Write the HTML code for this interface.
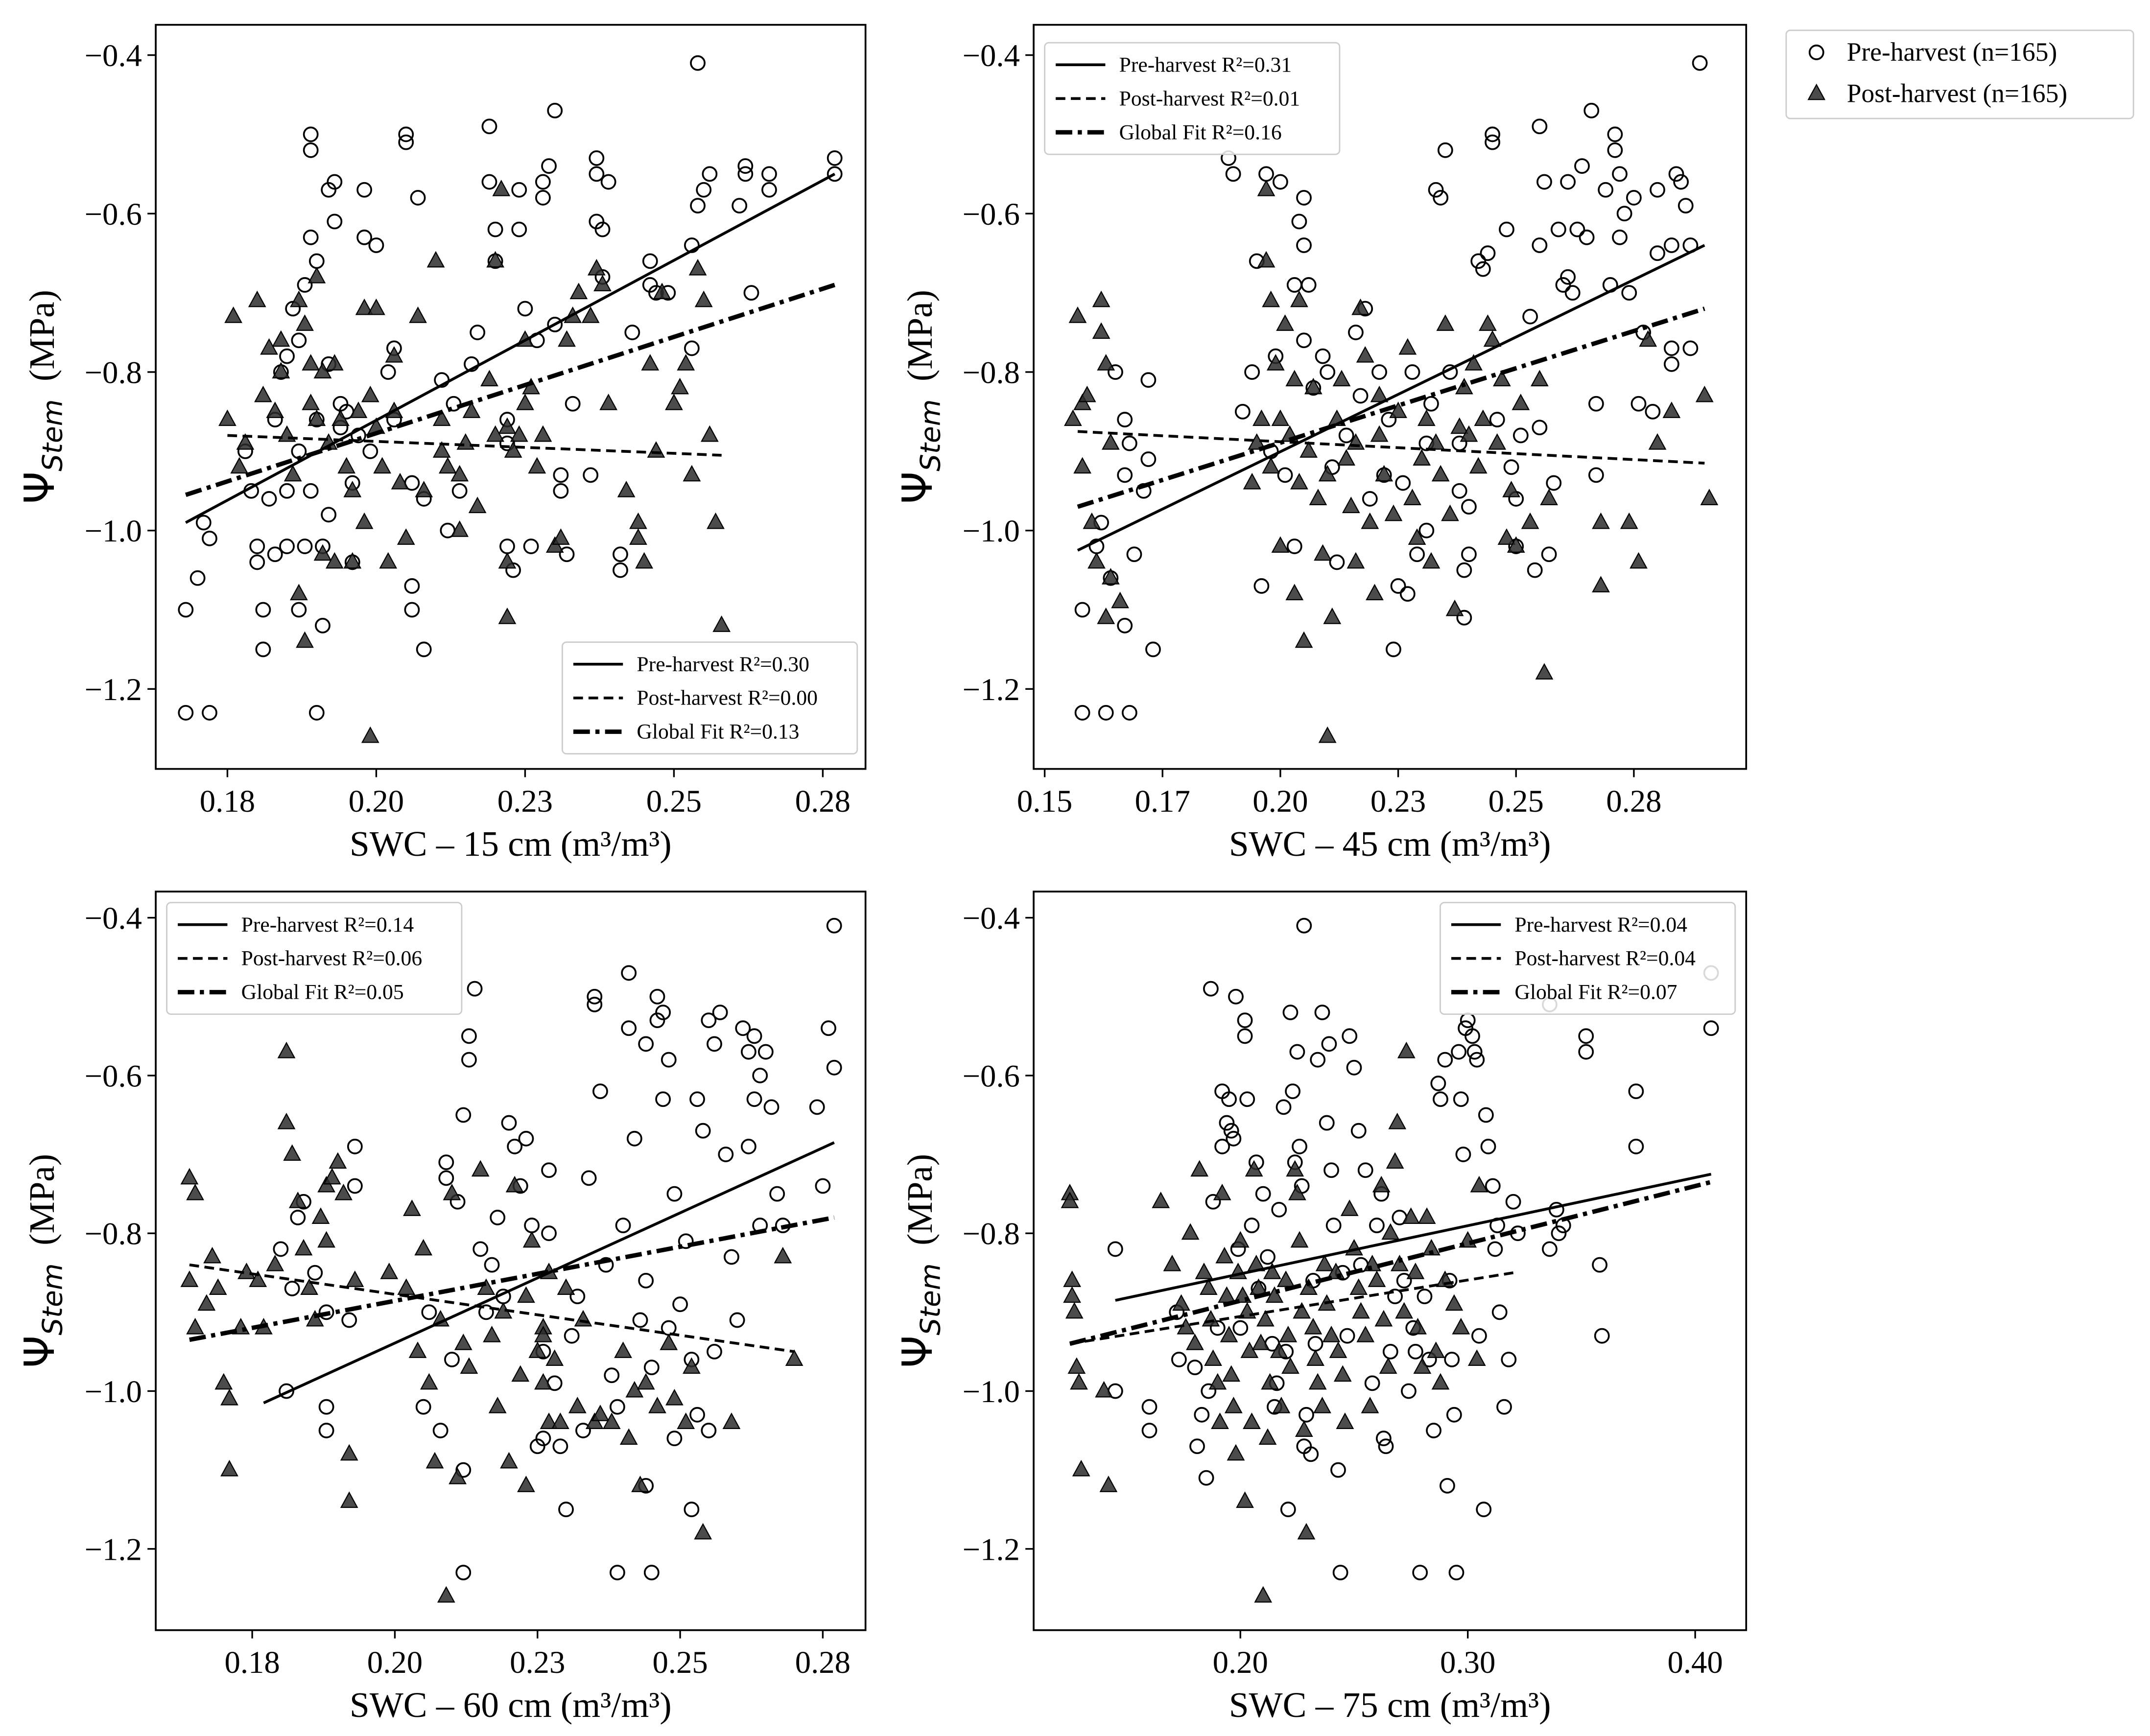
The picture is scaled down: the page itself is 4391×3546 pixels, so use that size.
<!DOCTYPE html>
<html><head><meta charset="utf-8"><style>
html,body{margin:0;padding:0;background:#fff;}
svg{display:block;font-family:"Liberation Serif","DejaVu Serif",serif;}
</style></head><body>
<svg id="chart" width="4391" height="3546" viewBox="0 0 1560 1259.8" xmlns="http://www.w3.org/2000/svg"></svg>
<script>
// ---------- DATA ----------
const p1Pre=[[0.168,-1.10],[0.168,-1.23],[0.172,-1.23],[0.171,-0.99],[0.170,-1.06],[0.172,-1.01],[0.178,-0.90],[0.179,-0.95],[0.180,-1.02],[0.180,-1.04],[0.181,-1.15],[0.182,-0.96],[0.183,-0.86],[0.184,-0.80],[0.185,-0.78],[0.186,-0.72],[0.187,-0.76],[0.188,-0.69],[0.189,-0.63],[0.189,-0.50],[0.189,-0.52],[0.190,-0.66],[0.192,-0.57],[0.190,-1.23],[0.191,-1.12],[0.192,-0.98],[0.193,-0.61],[0.193,-0.56],[0.192,-0.79],[0.194,-0.84],[0.196,-1.04],[0.197,-0.88],[0.198,-0.57],[0.198,-0.63],[0.200,-0.64],[0.199,-0.90],[0.202,-0.80],[0.203,-0.77],[0.203,-0.86],[0.205,-0.50],[0.205,-0.51],[0.206,-0.94],[0.206,-1.07],[0.206,-1.10],[0.207,-0.58],[0.208,-1.15],[0.208,-0.96],[0.211,-0.81],[0.212,-1.00],[0.213,-0.84],[0.214,-0.95],[0.216,-0.79],[0.217,-0.75],[0.219,-0.49],[0.219,-0.56],[0.220,-0.62],[0.220,-0.66],[0.222,-0.86],[0.222,-0.89],[0.222,-1.02],[0.223,-1.05],[0.224,-0.57],[0.224,-0.62],[0.225,-0.72],[0.226,-1.02],[0.227,-0.76],[0.228,-0.56],[0.228,-0.58],[0.229,-0.54],[0.230,-0.47],[0.230,-0.74],[0.231,-0.93],[0.231,-0.95],[0.232,-1.03],[0.233,-0.84],[0.236,-0.93],[0.237,-0.53],[0.237,-0.55],[0.237,-0.61],[0.238,-0.62],[0.238,-0.68],[0.239,-0.56],[0.241,-1.03],[0.241,-1.05],[0.243,-0.75],[0.246,-0.66],[0.246,-0.69],[0.247,-0.70],[0.249,-0.70],[0.253,-0.64],[0.253,-0.77],[0.254,-0.59],[0.254,-0.41],[0.255,-0.57],[0.256,-0.55],[0.261,-0.59],[0.262,-0.54],[0.262,-0.55],[0.263,-0.70],[0.266,-0.55],[0.266,-0.57],[0.277,-0.53],[0.277,-0.55],[0.185,-1.02],[0.187,-1.10],[0.188,-1.02],[0.189,-0.95],[0.187,-0.90],[0.183,-1.03],[0.185,-0.95],[0.191,-1.02],[0.194,-0.87],[0.195,-0.85],[0.190,-0.86],[0.196,-0.94],[0.181,-1.10]];
const p1Post=[[0.175,-0.86],[0.176,-0.73],[0.177,-0.92],[0.178,-0.89],[0.180,-0.71],[0.181,-0.83],[0.182,-0.77],[0.183,-0.85],[0.184,-0.80],[0.184,-0.76],[0.185,-0.88],[0.186,-0.93],[0.187,-0.71],[0.187,-1.08],[0.188,-0.74],[0.188,-1.14],[0.189,-0.79],[0.189,-0.84],[0.190,-0.68],[0.190,-0.86],[0.191,-0.80],[0.191,-1.03],[0.192,-0.89],[0.193,-0.79],[0.193,-1.04],[0.194,-0.86],[0.195,-0.92],[0.196,-1.04],[0.196,-0.95],[0.197,-0.85],[0.198,-0.72],[0.198,-0.99],[0.199,-1.26],[0.199,-0.83],[0.200,-0.72],[0.200,-0.87],[0.201,-0.92],[0.202,-1.04],[0.203,-0.78],[0.203,-0.85],[0.204,-0.94],[0.205,-1.01],[0.207,-0.73],[0.210,-0.66],[0.211,-0.86],[0.212,-0.92],[0.214,-0.93],[0.214,-1.00],[0.215,-0.89],[0.216,-0.85],[0.217,-0.97],[0.219,-0.81],[0.220,-0.66],[0.220,-0.88],[0.221,-0.57],[0.222,-1.11],[0.222,-1.04],[0.222,-0.87],[0.223,-0.90],[0.225,-0.76],[0.226,-0.82],[0.227,-0.92],[0.228,-0.88],[0.230,-1.02],[0.231,-1.01],[0.232,-0.76],[0.233,-0.73],[0.234,-0.70],[0.236,-0.73],[0.237,-0.67],[0.238,-0.69],[0.239,-0.84],[0.242,-0.95],[0.244,-1.01],[0.244,-0.99],[0.245,-1.04],[0.246,-0.79],[0.247,-0.90],[0.248,-0.70],[0.250,-0.84],[0.251,-0.82],[0.252,-0.79],[0.253,-0.93],[0.254,-0.67],[0.255,-0.71],[0.256,-0.88],[0.257,-0.99],[0.258,-1.12],[0.211,-0.90],[0.208,-0.95],[0.224,-0.88],[0.225,-0.84]];
const p1FitPre=[[0.168,-0.99],[0.277,-0.55]];
const p1FitPost=[[0.175,-0.88],[0.258,-0.905]];
const p1FitGlobal=[[0.168,-0.955],[0.277,-0.69]];

const p2Pre=[[0.158,-1.10],[0.158,-1.23],[0.163,-1.23],[0.161,-1.02],[0.162,-0.99],[0.164,-1.06],[0.165,-0.80],[0.167,-0.86],[0.167,-0.93],[0.167,-1.12],[0.168,-0.89],[0.168,-1.23],[0.169,-1.03],[0.171,-0.95],[0.172,-0.91],[0.172,-0.81],[0.173,-1.15],[0.189,-0.53],[0.190,-0.55],[0.192,-0.85],[0.194,-0.80],[0.195,-0.66],[0.196,-1.07],[0.197,-0.55],[0.198,-0.90],[0.199,-0.78],[0.200,-0.56],[0.201,-0.93],[0.203,-0.69],[0.203,-1.02],[0.204,-0.61],[0.205,-0.64],[0.205,-0.58],[0.205,-0.76],[0.206,-0.69],[0.207,-0.82],[0.209,-0.78],[0.210,-0.80],[0.211,-0.92],[0.212,-1.04],[0.214,-0.88],[0.216,-0.75],[0.217,-0.83],[0.218,-0.72],[0.219,-0.96],[0.221,-0.80],[0.222,-0.93],[0.223,-0.86],[0.224,-1.15],[0.225,-1.07],[0.226,-0.94],[0.227,-1.08],[0.228,-0.80],[0.229,-1.03],[0.231,-0.89],[0.231,-1.00],[0.232,-0.84],[0.233,-0.57],[0.234,-0.58],[0.235,-0.52],[0.236,-0.80],[0.238,-0.89],[0.238,-0.95],[0.239,-1.05],[0.239,-1.11],[0.240,-0.97],[0.240,-1.03],[0.242,-0.66],[0.243,-0.67],[0.244,-0.65],[0.245,-0.50],[0.245,-0.51],[0.246,-0.86],[0.248,-0.62],[0.249,-0.92],[0.250,-0.96],[0.250,-1.02],[0.251,-0.88],[0.253,-0.73],[0.254,-1.05],[0.255,-0.49],[0.255,-0.87],[0.256,-0.56],[0.257,-1.03],[0.258,-0.94],[0.259,-0.62],[0.260,-0.69],[0.261,-0.56],[0.261,-0.68],[0.262,-0.70],[0.263,-0.62],[0.264,-0.54],[0.265,-0.63],[0.266,-0.47],[0.267,-0.84],[0.267,-0.93],[0.269,-0.57],[0.270,-0.69],[0.271,-0.50],[0.271,-0.52],[0.272,-0.55],[0.272,-0.63],[0.273,-0.60],[0.274,-0.70],[0.275,-0.58],[0.276,-0.84],[0.277,-0.75],[0.279,-0.85],[0.280,-0.65],[0.280,-0.57],[0.283,-0.64],[0.284,-0.55],[0.285,-0.56],[0.286,-0.59],[0.283,-0.77],[0.283,-0.79],[0.289,-0.41],[0.287,-0.64],[0.287,-0.77],[0.255,-0.64]];
const p2Post=[[0.156,-0.86],[0.157,-0.73],[0.158,-0.84],[0.158,-0.92],[0.159,-0.83],[0.160,-0.99],[0.161,-1.04],[0.162,-0.71],[0.162,-0.75],[0.163,-1.11],[0.163,-0.79],[0.164,-1.06],[0.164,-0.89],[0.166,-1.09],[0.194,-0.94],[0.195,-0.89],[0.196,-0.86],[0.197,-0.57],[0.197,-0.66],[0.198,-0.71],[0.198,-0.92],[0.199,-0.79],[0.200,-0.86],[0.200,-1.02],[0.201,-0.74],[0.202,-0.88],[0.203,-0.81],[0.203,-1.08],[0.204,-0.94],[0.204,-0.71],[0.205,-1.14],[0.206,-0.90],[0.207,-0.82],[0.208,-0.96],[0.209,-1.03],[0.210,-0.93],[0.210,-1.26],[0.211,-1.11],[0.212,-0.86],[0.213,-0.81],[0.214,-0.91],[0.215,-0.97],[0.216,-1.04],[0.217,-0.72],[0.218,-0.78],[0.219,-0.99],[0.220,-1.08],[0.221,-0.88],[0.222,-0.93],[0.224,-0.98],[0.225,-0.85],[0.227,-0.77],[0.228,-0.96],[0.229,-1.01],[0.230,-0.91],[0.231,-0.86],[0.232,-1.04],[0.233,-0.89],[0.234,-0.93],[0.235,-0.74],[0.236,-0.98],[0.237,-1.10],[0.238,-0.87],[0.239,-0.82],[0.240,-0.88],[0.241,-0.79],[0.242,-0.92],[0.243,-0.86],[0.244,-0.74],[0.245,-0.76],[0.246,-0.89],[0.247,-0.81],[0.248,-1.01],[0.249,-0.95],[0.250,-1.02],[0.251,-0.84],[0.253,-0.99],[0.255,-0.81],[0.256,-1.18],[0.257,-0.96],[0.268,-0.99],[0.268,-1.07],[0.274,-0.99],[0.276,-1.04],[0.278,-0.76],[0.280,-0.89],[0.283,-0.85],[0.290,-0.83],[0.291,-0.96],[0.216,-0.89],[0.221,-0.83]];
const p2FitPre=[[0.157,-1.025],[0.290,-0.64]];
const p2FitPost=[[0.157,-0.875],[0.290,-0.915]];
const p2FitGlobal=[[0.157,-0.97],[0.290,-0.72]];

const p3Pre=[[0.180,-0.82],[0.181,-1.00],[0.182,-0.87],[0.183,-0.78],[0.184,-0.76],[0.186,-0.85],[0.188,-0.90],[0.188,-1.02],[0.188,-1.05],[0.192,-0.91],[0.193,-0.69],[0.193,-0.74],[0.205,-1.02],[0.206,-0.90],[0.208,-1.05],[0.209,-0.71],[0.209,-0.73],[0.210,-0.96],[0.212,-0.65],[0.213,-0.55],[0.213,-0.58],[0.211,-0.76],[0.212,-1.10],[0.212,-1.23],[0.214,-0.49],[0.215,-0.82],[0.216,-0.90],[0.217,-0.84],[0.218,-0.78],[0.219,-0.88],[0.220,-0.66],[0.221,-0.69],[0.222,-0.74],[0.223,-0.68],[0.224,-0.79],[0.225,-1.07],[0.226,-0.95],[0.227,-0.72],[0.226,-1.06],[0.227,-0.80],[0.228,-0.99],[0.229,-1.07],[0.230,-1.15],[0.231,-0.93],[0.232,-0.88],[0.233,-1.05],[0.234,-0.73],[0.235,-0.51],[0.235,-0.50],[0.236,-0.62],[0.237,-0.84],[0.238,-0.98],[0.239,-1.23],[0.239,-1.02],[0.240,-0.79],[0.241,-0.47],[0.241,-0.54],[0.242,-0.68],[0.243,-0.91],[0.244,-1.12],[0.245,-0.97],[0.244,-0.56],[0.244,-0.86],[0.245,-1.23],[0.246,-0.53],[0.246,-0.50],[0.247,-0.63],[0.247,-0.52],[0.248,-0.58],[0.249,-0.75],[0.249,-1.06],[0.250,-0.89],[0.251,-0.81],[0.252,-0.96],[0.252,-1.15],[0.253,-0.63],[0.254,-0.67],[0.255,-0.53],[0.256,-0.56],[0.257,-0.52],[0.258,-0.70],[0.259,-0.83],[0.260,-0.91],[0.261,-0.54],[0.262,-0.57],[0.263,-0.63],[0.262,-0.69],[0.263,-0.55],[0.264,-0.60],[0.264,-0.79],[0.265,-0.57],[0.266,-0.64],[0.267,-0.75],[0.268,-0.79],[0.274,-0.64],[0.275,-0.74],[0.276,-0.54],[0.277,-0.59],[0.277,-0.41],[0.255,-1.05],[0.256,-0.95],[0.253,-1.03],[0.248,-0.92]];
const p3Post=[[0.164,-0.73],[0.164,-0.86],[0.165,-0.92],[0.165,-0.75],[0.167,-0.89],[0.168,-0.83],[0.169,-0.87],[0.170,-0.99],[0.171,-1.10],[0.171,-1.01],[0.173,-0.92],[0.174,-0.85],[0.176,-0.86],[0.177,-0.92],[0.179,-0.84],[0.181,-0.57],[0.181,-0.66],[0.182,-0.70],[0.183,-0.76],[0.184,-0.82],[0.185,-0.87],[0.186,-0.91],[0.187,-0.78],[0.188,-0.74],[0.188,-0.81],[0.189,-0.73],[0.190,-0.71],[0.191,-0.75],[0.192,-1.14],[0.192,-1.08],[0.193,-0.86],[0.199,-0.85],[0.202,-0.87],[0.203,-0.77],[0.204,-0.95],[0.205,-0.82],[0.206,-0.99],[0.207,-1.09],[0.208,-0.91],[0.209,-1.26],[0.210,-0.75],[0.211,-1.11],[0.212,-0.94],[0.213,-0.97],[0.215,-0.72],[0.216,-0.87],[0.217,-0.93],[0.218,-1.02],[0.219,-0.90],[0.220,-1.09],[0.221,-0.74],[0.222,-0.98],[0.223,-1.12],[0.224,-0.81],[0.225,-0.95],[0.226,-0.92],[0.227,-1.04],[0.226,-0.99],[0.227,-0.85],[0.228,-0.96],[0.229,-1.04],[0.230,-0.87],[0.232,-1.02],[0.233,-0.91],[0.235,-1.04],[0.236,-1.03],[0.238,-1.04],[0.240,-0.95],[0.241,-1.06],[0.242,-1.00],[0.243,-1.12],[0.244,-0.99],[0.246,-1.02],[0.248,-0.94],[0.249,-1.01],[0.251,-1.04],[0.252,-0.97],[0.254,-1.18],[0.259,-1.04],[0.268,-0.83],[0.270,-0.96],[0.226,-0.93],[0.223,-0.88]];
const p3FitPre=[[0.177,-1.015],[0.277,-0.685]];
const p3FitPost=[[0.164,-0.84],[0.270,-0.95]];
const p3FitGlobal=[[0.164,-0.935],[0.277,-0.78]];

const p4Pre=[[0.145,-0.82],[0.145,-1.00],[0.160,-1.02],[0.160,-1.05],[0.172,-0.90],[0.173,-0.96],[0.180,-0.97],[0.181,-1.07],[0.183,-1.03],[0.185,-1.11],[0.186,-1.00],[0.187,-0.49],[0.188,-0.76],[0.190,-0.92],[0.192,-0.62],[0.192,-0.69],[0.194,-0.66],[0.195,-0.63],[0.196,-0.67],[0.197,-0.68],[0.198,-0.50],[0.199,-0.82],[0.200,-0.92],[0.202,-0.53],[0.202,-0.55],[0.203,-0.63],[0.205,-0.79],[0.207,-0.71],[0.208,-0.87],[0.210,-0.75],[0.212,-0.83],[0.214,-0.94],[0.215,-1.02],[0.216,-0.99],[0.217,-0.77],[0.219,-0.64],[0.220,-0.95],[0.221,-1.15],[0.222,-0.52],[0.223,-0.62],[0.224,-0.71],[0.225,-0.57],[0.226,-0.69],[0.227,-0.74],[0.228,-1.07],[0.228,-0.41],[0.229,-1.03],[0.231,-1.08],[0.232,-0.86],[0.233,-0.94],[0.234,-0.58],[0.236,-0.52],[0.238,-0.66],[0.239,-0.56],[0.240,-0.72],[0.241,-0.79],[0.243,-1.10],[0.244,-1.23],[0.245,-0.85],[0.247,-0.93],[0.248,-0.55],[0.250,-0.59],[0.252,-0.67],[0.253,-0.84],[0.255,-0.72],[0.258,-0.99],[0.260,-0.79],[0.262,-0.75],[0.263,-1.06],[0.264,-1.07],[0.266,-0.95],[0.268,-0.88],[0.270,-0.78],[0.272,-0.86],[0.274,-1.00],[0.276,-0.92],[0.277,-0.95],[0.279,-1.23],[0.281,-0.88],[0.283,-0.96],[0.285,-1.05],[0.287,-0.61],[0.288,-0.63],[0.290,-0.58],[0.291,-1.12],[0.292,-0.86],[0.293,-0.96],[0.294,-1.03],[0.295,-1.23],[0.296,-0.57],[0.297,-0.63],[0.298,-0.70],[0.299,-0.54],[0.300,-0.53],[0.302,-0.55],[0.303,-0.57],[0.304,-0.58],[0.305,-0.93],[0.307,-1.15],[0.308,-0.65],[0.309,-0.69],[0.311,-0.74],[0.312,-0.82],[0.313,-0.79],[0.314,-0.90],[0.316,-1.02],[0.318,-0.96],[0.320,-0.76],[0.322,-0.80],[0.336,-0.51],[0.336,-0.82],[0.339,-0.77],[0.340,-0.80],[0.342,-0.79],[0.352,-0.55],[0.352,-0.57],[0.358,-0.84],[0.359,-0.93],[0.374,-0.62],[0.374,-0.69],[0.407,-0.47],[0.407,-0.54]];
const p4Post=[[0.125,-0.75],[0.125,-0.76],[0.126,-0.86],[0.126,-0.88],[0.127,-0.90],[0.128,-0.97],[0.129,-0.99],[0.130,-1.10],[0.140,-1.00],[0.142,-1.12],[0.165,-0.76],[0.170,-0.84],[0.174,-0.89],[0.176,-0.92],[0.178,-0.80],[0.180,-0.94],[0.182,-0.72],[0.184,-0.85],[0.186,-0.87],[0.187,-0.91],[0.188,-0.96],[0.190,-0.99],[0.191,-1.04],[0.192,-0.75],[0.193,-0.83],[0.194,-0.88],[0.195,-0.93],[0.196,-0.98],[0.197,-1.02],[0.198,-1.08],[0.199,-0.85],[0.200,-0.81],[0.201,-0.88],[0.202,-1.14],[0.203,-0.90],[0.204,-0.95],[0.205,-1.04],[0.206,-0.72],[0.207,-0.84],[0.208,-0.87],[0.209,-0.94],[0.210,-1.26],[0.211,-0.91],[0.212,-1.06],[0.213,-0.99],[0.214,-0.85],[0.215,-0.88],[0.217,-0.95],[0.218,-1.02],[0.220,-0.86],[0.221,-0.93],[0.222,-0.97],[0.224,-0.72],[0.225,-0.75],[0.226,-0.81],[0.227,-0.90],[0.228,-1.05],[0.229,-1.18],[0.230,-0.87],[0.232,-0.92],[0.233,-0.96],[0.234,-0.99],[0.236,-1.02],[0.237,-0.84],[0.238,-0.89],[0.240,-0.93],[0.242,-0.85],[0.243,-0.95],[0.245,-0.98],[0.246,-1.04],[0.248,-0.77],[0.250,-0.82],[0.252,-0.87],[0.253,-0.90],[0.255,-0.93],[0.257,-1.02],[0.258,-0.84],[0.260,-0.86],[0.262,-0.74],[0.263,-0.91],[0.265,-0.97],[0.266,-0.80],[0.268,-0.71],[0.269,-0.66],[0.270,-0.84],[0.272,-0.90],[0.273,-0.57],[0.275,-0.78],[0.277,-0.85],[0.278,-0.92],[0.280,-0.97],[0.282,-0.78],[0.284,-0.82],[0.286,-0.95],[0.288,-0.99],[0.290,-0.86],[0.294,-0.89],[0.297,-0.92],[0.300,-0.81],[0.304,-0.96],[0.305,-0.74]];
const p4FitPre=[[0.145,-0.885],[0.407,-0.725]];
const p4FitPost=[[0.125,-0.94],[0.320,-0.85]];
const p4FitGlobal=[[0.125,-0.94],[0.407,-0.735]];

const yTicks=[-0.4,-0.6,-0.8,-1.0,-1.2];
const yTickLabels=["\u22120.4","\u22120.6","\u22120.8","\u22121.0","\u22121.2"];
const xTicksA=[0.175,0.2,0.225,0.25,0.275];
const xTickLabelsA=["0.18","0.20","0.23","0.25","0.28"];
const xTicksB=[0.15,0.175,0.2,0.225,0.25,0.275];
const xTickLabelsB=["0.15","0.17","0.20","0.23","0.25","0.28"];
const xTicksD=[0.2,0.3,0.4];
const xTickLabelsD=["0.20","0.30","0.40"];
const r2P1=["0.30","0.00","0.13"];
const r2P2=["0.31","0.01","0.16"];
const r2P3=["0.14","0.06","0.05"];
const r2P4=["0.04","0.04","0.07"];

// ---------- DRAW ----------
const NS="http://www.w3.org/2000/svg";
const svg=document.getElementById('chart');
function mk(tag,attrs,parent){const e=document.createElementNS(NS,tag);for(const k in attrs)e.setAttribute(k,attrs[k]);(parent||svg).appendChild(e);return e;}

const panels=[
 {id:'swc15',L:113,R:628,T:18,B:558,x0:0.175,px0:165,xs:108/0.025,y0:-0.4,py0:40,ys:115/0.2,pre:p1Pre,post:p1Post,fits:[p1FitPre,p1FitPost,p1FitGlobal],xt:xTicksA,xl:xTickLabelsA,r2:r2P1,leg:[408,466],label:'SWC \u2013 15 cm (m\u00B3/m\u00B3)'},
 {id:'swc45',L:750,R:1267,T:18,B:558,x0:0.15,px0:758,xs:85.5/0.025,y0:-0.4,py0:40,ys:115/0.2,pre:p2Pre,post:p2Post,fits:[p2FitPre,p2FitPost,p2FitGlobal],xt:xTicksB,xl:xTickLabelsB,r2:r2P2,leg:[758,31],label:'SWC \u2013 45 cm (m\u00B3/m\u00B3)'},
 {id:'swc60',L:113,R:628,T:647,B:1183,x0:0.175,px0:183,xs:103.5/0.025,y0:-0.4,py0:666,ys:114.5/0.2,pre:p3Pre,post:p3Post,fits:[p3FitPre,p3FitPost,p3FitGlobal],xt:xTicksA,xl:xTickLabelsA,r2:r2P3,leg:[121,655],label:'SWC \u2013 60 cm (m\u00B3/m\u00B3)'},
 {id:'swc75',L:750,R:1267,T:647,B:1183,x0:0.2,px0:900,xs:165/0.1,y0:-0.4,py0:666,ys:114.5/0.2,pre:p4Pre,post:p4Post,fits:[p4FitPre,p4FitPost,p4FitGlobal],xt:xTicksD,xl:xTickLabelsD,r2:r2P4,leg:[1045,655],label:'SWC \u2013 75 cm (m\u00B3/m\u00B3)'}
];
const dashes=['none','7,4','12,4,3,4'];
const widths=[2,2,3.2];
const fitNames=['Pre-harvest','Post-harvest','Global Fit'];

function tri(cx,cy,s){return `${cx},${cy-s} ${cx-s*0.9},${cy+s*0.65} ${cx+s*0.9},${cy+s*0.65}`;}

panels.forEach((p,i)=>{
  const X=v=>p.px0+(v-p.x0)*p.xs;
  const Y=v=>p.py0+(p.y0-v)*p.ys;
  const g=mk('g',{});
  
  
  const frame=mk('rect',{x:p.L,y:p.T,width:p.R-p.L,height:p.B-p.T,fill:'#fff',stroke:'#000','stroke-width':1.3},g);
  
  
  yTicks.forEach((t,k)=>{
    const y=Y(t);
    const tk=mk('line',{x1:p.L-6,x2:p.L,y1:y,y2:y,stroke:'#000','stroke-width':1.2},g);
    
    
    const tl=mk('text',{x:p.L-10,y:y+8,'text-anchor':'end','font-size':23},g);
    tl.textContent=yTickLabels[k];
    
    
  });
  p.xt.forEach((t,k)=>{
    const x=X(t);
    const tk=mk('line',{x1:x,x2:x,y1:p.B,y2:p.B+6,stroke:'#000','stroke-width':1.2},g);
    
    
    const tl=mk('text',{x:x,y:p.B+31,'text-anchor':'middle','font-size':23},g);
    tl.textContent=p.xl[k];
    
    
  });
  const xt=mk('text',{x:(p.L+p.R)/2,y:p.B+63,'text-anchor':'middle','font-size':26},g);
  xt.textContent=p.label;
  
  
  const yt=mk('text',{transform:`translate(${p.L-74},${(p.T+p.B)/2}) rotate(-90)`,'text-anchor':'middle','font-size':26},g);
  
  
  const t1=mk('tspan',{'font-size':30,'font-family':'"DejaVu Sans",sans-serif'},yt);t1.textContent='\u03A8';
  const t2=mk('tspan',{'font-style':'italic','font-size':20,dy:6,'font-family':'"DejaVu Sans",sans-serif'},yt);t2.textContent='Stem';
  const t3=mk('tspan',{dy:-6},yt);t3.textContent='\u00A0\u00A0(MPa)';
  p.pre.forEach(d=>{
    const c=mk('circle',{cx:X(d[0]),cy:Y(d[1]),r:5,fill:'none',stroke:'#000','stroke-width':1.3},g);
    
    
  });
  p.post.forEach(d=>{
    const t=mk('polygon',{points:tri(X(d[0]),Y(d[1]),6.5),fill:'#2b2b2b','fill-opacity':0.85,stroke:'#000','stroke-width':0.8},g);
    
    
  });
  p.fits.forEach((f,k)=>{
    const l=mk('line',{x1:X(f[0][0]),y1:Y(f[0][1]),x2:X(f[1][0]),y2:Y(f[1][1]),stroke:'#000','stroke-width':widths[k],'stroke-dasharray':dashes[k]},g);
    
    
  });
  const lg=mk('g',{},g);
  
  
  const [lx,ly]=p.leg;
  mk('rect',{x:lx,y:ly,width:214,height:81,rx:3,fill:'#fff','fill-opacity':0.85,stroke:'#ccc','stroke-width':1},lg);
  for(let k=0;k<3;k++){
    const yy=ly+16+k*24.5;
    mk('line',{x1:lx+8,x2:lx+44,y1:yy,y2:yy,stroke:'#000','stroke-width':widths[k],'stroke-dasharray':dashes[k]},lg);
    const tx=mk('text',{x:lx+54,y:yy+5,'font-size':15.5},lg);
    tx.textContent=fitNames[k]+' R\u00B2='+p.r2[k];
    
    
  }
});
const gl=mk('g',{});


mk('rect',{x:1296,y:22,width:252,height:64,rx:3,fill:'#fff',stroke:'#ccc','stroke-width':1},gl);
mk('circle',{cx:1318,cy:38,r:5,fill:'none',stroke:'#000','stroke-width':1.3},gl);
const e1=mk('text',{x:1340,y:44,'font-size':19},gl);e1.textContent='Pre-harvest (n=165)';


mk('polygon',{points:tri(1318,68,6.5),fill:'#2b2b2b','fill-opacity':0.85,stroke:'#000','stroke-width':0.8},gl);
const e2=mk('text',{x:1340,y:74,'font-size':19},gl);e2.textContent='Post-harvest (n=165)';


</script>
</body></html>
